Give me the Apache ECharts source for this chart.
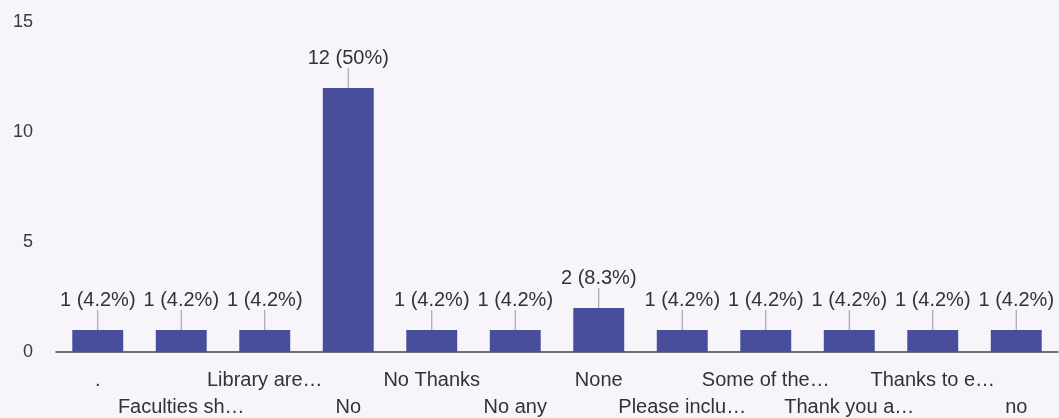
<!DOCTYPE html>
<html>
<head>
<meta charset="utf-8">
<script src="https://cdn.jsdelivr.net/npm/echarts@6/dist/echarts.min.js"></script>
<style>
html,body{margin:0;padding:0;background:#f8f5fa;}
#c{width:1059px;height:418px;}
</style>
</head>
<body>
<div id="c"></div>
<script>
const categories = ['.', 'Faculties sh…', 'Library are…', 'No', 'No Thanks', 'No any', 'None', 'Please inclu…', 'Some of the…', 'Thank you a…', 'Thanks to e…', 'no'];
const counts = [1, 1, 1, 12, 1, 1, 2, 1, 1, 1, 1, 1];
const percents = ['4.2%', '4.2%', '4.2%', '50%', '4.2%', '4.2%', '8.3%', '4.2%', '4.2%', '4.2%', '4.2%', '4.2%'];
const yTicks = [0, 5, 10, 15];

const chart = echarts.init(document.getElementById('c'));
chart.setOption({
  backgroundColor: '#f8f5fa',
  animation: false,
  grid: {left: 56, right: 1, top: 22, bottom: 66, containLabel: false, outerBoundsMode: 'none'},
  xAxis: {
    type: 'category',
    data: categories,
    axisLine: {lineStyle: {color: '#444', width: 1.5}},
    axisTick: {show: false},
    axisLabel: {
      interval: 0,
      margin: 15,
      fontFamily: 'Liberation Sans, Arial, sans-serif',
      fontSize: 20,
      lineHeight: 27,
      color: '#333',
      formatter: function (v, i) { return i % 2 === 1 ? '\n' + v : v; }
    }
  },
  yAxis: {
    type: 'value',
    min: yTicks[0],
    max: yTicks[yTicks.length - 1],
    interval: 5,
    axisLine: {show: false},
    axisTick: {show: false},
    splitLine: {show: false},
    axisLabel: {
      margin: 23,
      fontFamily: 'Liberation Sans, Arial, sans-serif',
      fontSize: 18,
      color: '#3a3a3a'
    }
  },
  series: [{
    type: 'bar',
    data: counts,
    barWidth: '61%',
    itemStyle: {color: '#494e9c'},
    label: {
      show: true,
      position: 'top',
      distance: 5,
      fontFamily: 'Liberation Sans, Arial, sans-serif',
      fontSize: 20,
      color: '#333',
      formatter: function (p) { return p.value + ' (' + percents[p.dataIndex] + ')'; }
    },
    labelLayout: {dy: -15},
    labelLine: {show: true, lineStyle: {color: '#999', width: 1}}
  }]
});
</script>
</body>
</html>
